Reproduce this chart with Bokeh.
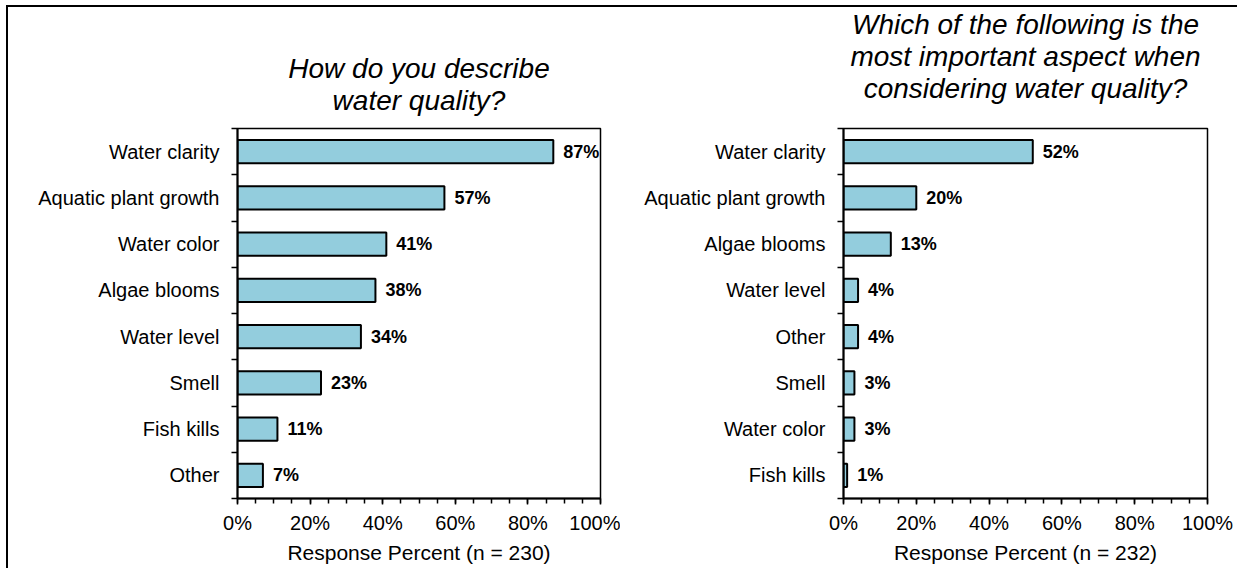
from bokeh.plotting import figure
from bokeh.models import FixedTicker, LinearAxis, Range1d, Title, ColumnDataSource
from bokeh.layouts import row
from bokeh.core.properties import value
from bokeh.embed import file_html
from bokeh.resources import INLINE

# ---- data ----
left_categories = ["Water clarity", "Aquatic plant growth", "Water color", "Algae blooms",
                   "Water level", "Smell", "Fish kills", "Other"]
left_values = [87, 57, 41, 38, 34, 23, 11, 7]
left_title_lines = ["How do you describe", "water quality?"]
left_xlabel = "Response Percent (n = 230)"

right_categories = ["Water clarity", "Aquatic plant growth", "Algae blooms", "Water level",
                    "Other", "Smell", "Water color", "Fish kills"]
right_values = [52, 20, 13, 4, 4, 3, 3, 1]
right_title_lines = ["Which of the following is the", "most important aspect when",
                     "considering water quality?"]
right_xlabel = "Response Percent (n = 232)"

x_ticks = [0, 20, 40, 60, 80, 100]
x_tick_labels = ["0%", "20%", "40%", "60%", "80%", "100%"]
x_minor_ticks = list(range(0, 101, 5))

FONT = "Liberation Sans"
BAR_FILL = "#93CDDD"


def make_chart(cats, vals, title_lines, xlabel, width, mb_left, mb_right, title_gap):
    n = len(cats)
    ys = [n - i - 0.5 for i in range(n)]
    src = ColumnDataSource(dict(y=ys, v=vals, lab=[f"{v}%" for v in vals], cat=cats))

    p = figure(width=width, height=561, x_range=Range1d(0, 100), y_range=Range1d(0, n),
               output_backend="svg", toolbar_location=None,
               min_border_left=mb_left, min_border_right=mb_right,
               min_border_top=120, min_border_bottom=70)
    p.xgrid.visible = False
    p.ygrid.visible = False
    p.outline_line_color = "black"
    p.outline_line_width = 1.5
    p.background_fill_color = "white"
    p.border_fill_color = "white"

    p.hbar(y="y", right="v", left=0, height=0.5, fill_color=BAR_FILL,
           line_color="black", line_width=2, source=src)
    p.text(x="v", y="y", text="lab", x_offset=10, text_baseline="middle",
           text_align="left", text_font=value(FONT), text_font_style="bold",
           text_font_size="18px", text_color="black", source=src)

    # x axis
    xa = p.xaxis[0]
    xa.ticker = FixedTicker(ticks=x_ticks, minor_ticks=x_minor_ticks)
    xa.major_label_overrides = {t: l for t, l in zip(x_ticks, x_tick_labels)}
    xa.axis_label = xlabel
    xa.axis_label_text_font = FONT
    xa.axis_label_text_font_style = "normal"
    xa.axis_label_text_font_size = "21px"
    xa.axis_label_text_color = "black"
    xa.axis_label_standoff = 4
    xa.major_label_text_font = FONT
    xa.major_label_text_font_size = "20px"
    xa.major_label_text_color = "black"
    xa.major_label_standoff = 7
    xa.axis_line_color = "black"
    xa.axis_line_width = 2
    xa.major_tick_line_color = "black"
    xa.major_tick_line_width = 1.5
    xa.major_tick_in = 0
    xa.major_tick_out = 6
    xa.minor_tick_line_color = "black"
    xa.minor_tick_line_width = 1.5
    xa.minor_tick_in = 0
    xa.minor_tick_out = 5

    # y axis with tick marks at category boundaries (no labels)
    ya = p.yaxis[0]
    ya.ticker = FixedTicker(ticks=list(range(n + 1)))
    ya.major_label_overrides = {i: "" for i in range(n + 1)}
    ya.major_label_standoff = 0
    ya.axis_line_color = "black"
    ya.axis_line_width = 2
    ya.major_tick_line_color = "black"
    ya.major_tick_line_width = 1.5
    ya.major_tick_in = 0
    ya.major_tick_out = 6
    ya.minor_tick_line_color = None

    # y axis carrying the category names at band centres
    la = LinearAxis(ticker=FixedTicker(ticks=ys),
                    major_label_overrides={y: c for y, c in zip(ys, cats)})
    la.axis_line_color = None
    la.major_tick_line_color = None
    la.minor_tick_line_color = None
    la.major_tick_in = 0
    la.major_tick_out = 0
    la.major_label_standoff = 12
    la.major_label_text_font = FONT
    la.major_label_text_font_size = "20px"
    la.major_label_text_color = "black"
    p.add_layout(la, "left")

    # spacer between frame and title, then title lines (innermost = last line)
    p.title = None
    p.add_layout(Title(text=" ", text_font_size="1px", standoff=title_gap,
                       text_color="white"), "above")
    for line in reversed(title_lines):
        t = Title(text=line, align="center", text_font=FONT, text_font_style="italic",
                  text_font_size="28px", standoff=-1.5, text_color="black")
        p.add_layout(t, "above")
    return p


p1 = make_chart(left_categories, left_values, left_title_lines, left_xlabel, 612, 229, 20, 9.5)
p2 = make_chart(right_categories, right_values, right_title_lines, right_xlabel, 617, 223, 30, 21.5)

layout = row(p1, p2, styles={"margin-left": "6px", "margin-top": "5px",
                             "border-left": "2px solid black",
                             "border-top": "2px solid black"})

open("out.html", "w").write(file_html(layout, INLINE))
